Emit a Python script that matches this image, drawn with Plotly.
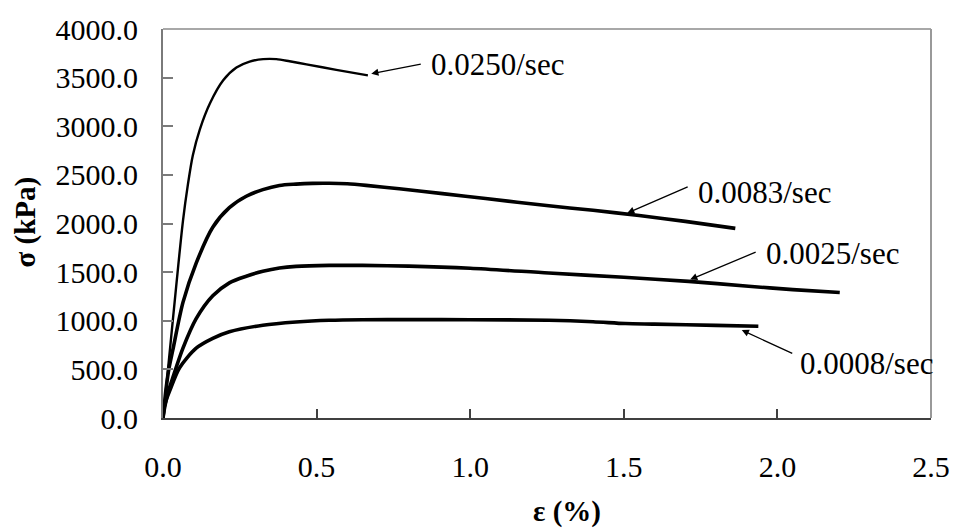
import plotly.graph_objects as go

# ---- data (strain %, stress kPa) ----
x_0250 = [0.0, 0.005, 0.022, 0.043, 0.065, 0.081, 0.097, 0.12, 0.153, 0.196, 0.239, 0.282, 0.326, 0.369, 0.412, 0.467, 0.564, 0.667]
y_0250 = [0, 148, 685, 1357, 2028, 2400, 2700, 2969, 3237, 3473, 3604, 3665, 3690, 3690, 3668, 3636, 3580, 3523]

x_0083 = [0.0, 0.01, 0.02, 0.032, 0.065, 0.108, 0.162, 0.216, 0.271, 0.325, 0.379, 0.433, 0.487, 0.541, 0.6, 0.661, 0.769, 0.91, 1.05, 1.256, 1.4, 1.55, 1.7, 1.863]
y_0083 = [0, 300, 520, 700, 1189, 1592, 1962, 2163, 2280, 2348, 2391, 2405, 2413, 2414, 2408, 2392, 2357, 2307, 2257, 2182, 2136, 2082, 2022, 1950]

x_0025 = [0.0, 0.005, 0.015, 0.032, 0.065, 0.108, 0.162, 0.216, 0.271, 0.325, 0.379, 0.433, 0.541, 0.649, 0.8, 1.0, 1.256, 1.5, 1.711, 1.906, 2.05, 2.203]
y_0025 = [0, 100, 250, 416, 718, 1021, 1256, 1390, 1458, 1508, 1542, 1559, 1569, 1569, 1562, 1540, 1491, 1447, 1405, 1355, 1320, 1290]

x_0008 = [0.0, 0.003, 0.01, 0.022, 0.054, 0.108, 0.162, 0.216, 0.325, 0.433, 0.541, 0.649, 0.8, 1.0, 1.256, 1.4, 1.505, 1.6, 1.8, 1.938]
y_0008 = [0, 100, 180, 282, 517, 718, 819, 887, 954, 987, 1005, 1011, 1012, 1010, 1005, 990, 971, 965, 952, 944]

labels = ["0.0250/sec", "0.0083/sec", "0.0025/sec", "0.0008/sec"]
x_ticks = [0.0, 0.5, 1.0, 1.5, 2.0, 2.5]
y_ticks = [0, 500, 1000, 1500, 2000, 2500, 3000, 3500, 4000]

FONT = "Liberation Serif, Times New Roman, serif"

fig = go.Figure()
series = [(x_0250, y_0250, 2.4), (x_0083, y_0083, 3.6), (x_0025, y_0025, 3.6), (x_0008, y_0008, 3.6)]
for (xs, ys, w), name in zip(series, labels):
    fig.add_trace(go.Scatter(x=xs, y=ys, mode="lines", name=name,
                             line=dict(color="black", width=w, shape="spline", smoothing=0.8),
                             showlegend=False, hoverinfo="skip"))

# arrow annotations: (head x, head y, tail dx px, tail dy px, text x, text y)
arrows = [
    (0.678, 3540, 51, -10, 0.867, 3637),
    (1.511, 2106, 62, -27, 1.734, 2317),
    (1.716, 1424, 67, -28, 1.955, 1693),
    (1.884, 904, 52, 24, 2.068, 564),
]
for (hx, hy, ax, ay, tx, ty), lab in zip(arrows, labels):
    fig.add_annotation(x=hx, y=hy, ax=ax, ay=ay, text="", showarrow=True,
                       arrowhead=2, arrowsize=1.1, arrowwidth=1.3, arrowcolor="black")
    fig.add_annotation(x=tx, y=ty, text=lab, showarrow=False, xanchor="left", yanchor="middle",
                       font=dict(family=FONT, size=31, color="black"))

# axis titles
fig.add_annotation(xref="paper", yref="paper", x=0.526, y=-0.24, text="<b>ε (%)</b>", showarrow=False,
                   xanchor="center", yanchor="middle", font=dict(family=FONT, size=29, color="black"))
fig.add_annotation(xref="paper", yref="paper", x=-0.179, y=0.504, text="<b>σ (kPa)</b>", showarrow=False,
                   textangle=-90, xanchor="center", yanchor="middle", font=dict(family=FONT, size=29, color="black"))

# top and right frame
fig.add_shape(type="line", xref="paper", yref="paper", x0=0, x1=1, y0=1, y1=1, line=dict(color="#a8a8a8", width=2))
fig.add_shape(type="line", xref="paper", yref="paper", x0=1, x1=1, y0=0, y1=1, line=dict(color="#999999", width=2))

fig.update_layout(
    width=962, height=532,
    margin=dict(l=163, r=29, t=21, b=114),
    paper_bgcolor="white", plot_bgcolor="white",
    font=dict(family=FONT, size=30, color="black"),
    xaxis=dict(range=[0, 2.5], tickvals=x_ticks, ticktext=[f"{v:.1f}" for v in x_ticks],
               showgrid=False, zeroline=False, showline=True, linecolor="#404040", linewidth=2,
               ticks="inside", ticklen=9, tickwidth=1.5, tickcolor="#404040",
               ticklabelstandoff=21, tickfont=dict(family=FONT, size=30)),
    yaxis=dict(range=[0, 4000], tickvals=y_ticks, ticktext=[f"{v:.1f}" for v in y_ticks],
               showgrid=False, zeroline=False, showline=True, linecolor="#7a7a7a", linewidth=2,
               ticks="inside", ticklen=10, tickwidth=1.5, tickcolor="#7a7a7a",
               ticklabelstandoff=17, tickfont=dict(family=FONT, size=30)),
)

fig.write_html("out.html")
